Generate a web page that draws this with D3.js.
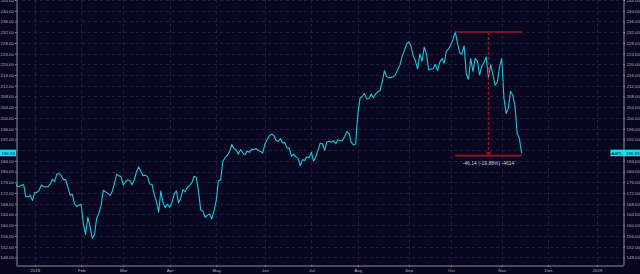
<!DOCTYPE html>
<html>
<head>
  <meta charset="utf-8">
  <title>AAPL 2018</title>
  <script src="https://cdn.jsdelivr.net/npm/d3@7"></script>
  <style>
    body { margin: 0; background: #09061f; }
    svg { display: block; }
  </style>
</head>
<body>
  <script>
    // daily closes, one array per month (Dec 15 2017 -> Nov 14 2018)
    var closeDec17 = [173.97, 176.42, 174.54, 174.35, 175.01, 175.01, 170.57, 170.60, 171.08, 169.23];
    var closeJan = [172.26, 172.23, 173.03, 175.00, 174.35, 174.33, 174.29, 175.28, 177.09, 176.19, 179.10,
                    179.26, 178.46, 177.00, 177.04, 174.22, 171.11, 171.51, 167.96, 166.97, 167.43];
    var closeFeb = [167.78, 160.50, 156.49, 163.03, 159.54, 155.15, 156.41, 162.71, 164.34, 167.37, 172.99,
                    172.43, 171.85, 171.07, 172.50, 175.50, 178.97, 178.39, 178.12];
    var closeMar = [175.00, 176.21, 176.82, 176.67, 175.03, 176.94, 179.98, 181.72, 179.97, 178.44, 178.65,
                    178.02, 175.30, 175.24, 171.27, 168.85, 164.94, 172.77, 168.34, 166.48, 167.78];
    var closeApr = [166.68, 168.39, 171.61, 172.80, 168.38, 170.05, 173.25, 172.44, 174.14, 174.73, 175.82,
                    178.24, 177.84, 172.80, 165.72, 165.24, 162.94, 163.65, 164.22, 162.32, 165.26];
    var closeMay = [169.10, 176.57, 176.89, 183.83, 185.16, 186.05, 187.36, 190.04, 188.59, 188.15, 186.44,
                    188.18, 186.99, 186.31, 187.63, 187.16, 188.36, 188.15, 188.58, 187.90, 187.50, 186.87];
    var closeJun = [190.24, 191.83, 193.31, 193.98, 193.46, 191.70, 191.23, 192.28, 190.70, 190.80, 188.84,
                    188.74, 185.69, 186.50, 185.46, 184.92, 182.17, 184.43, 184.16, 185.50, 185.11];
    var closeJul = [187.18, 183.92, 185.40, 187.97, 190.58, 190.35, 187.88, 191.03, 191.33, 190.91, 191.45,
                    190.40, 191.88, 191.44, 191.61, 193.00, 194.82, 194.21, 190.98, 189.91, 190.29];
    var closeAug = [201.50, 207.39, 207.99, 209.07, 207.11, 207.25, 208.88, 207.53, 208.87, 209.75, 210.24,
                    213.32, 217.58, 215.46, 215.04, 215.05, 215.49, 216.16, 217.94, 219.70, 222.98, 225.03, 227.63];
    var closeSep = [228.36, 226.87, 223.10, 221.30, 218.33, 223.85, 221.07, 226.41, 223.84, 217.88, 218.24,
                    218.37, 220.03, 217.66, 220.79, 222.19, 220.42, 224.95, 225.74];
    var closeOct = [227.26, 229.28, 232.07, 227.99, 224.29, 223.77, 226.87, 216.36, 214.45, 222.11, 217.36,
                    222.15, 221.19, 216.02, 219.31, 220.65, 222.73, 215.09, 219.80, 216.30, 212.24, 213.30, 218.86];
    var closeNov = [222.22, 207.48, 201.59, 203.77, 209.95, 208.49, 204.47, 194.17, 192.23, 186.93];

    var closes = [].concat(closeDec17, closeJan, closeFeb, closeMar, closeApr, closeMay, closeJun,
                           closeJul, closeAug, closeSep, closeOct, closeNov);

    // x axis: month labels and the trading-day index where each month starts
    var tickLabels = ['2018', 'Feb', 'Mar', 'Apr', 'May', 'Jun', 'Jul', 'Aug', 'Sep', 'Oct', 'Nov', 'Dec', '2019'];
    var tickDays = [10, 31, 50, 71, 92, 114, 135, 156, 179, 198, 221, 242, 264];
    var priceTicks = d3.range(148, 245, 4);

    var symbol = 'AAPL';
    var measureDelta = -46.14;
    var measureText = '-46.14 (-19.88%) -4614';

    var width = 640, height = 274;
    var plot = { left: 16, right: 623, top: 0, bottom: 265 };
    var font = 'Liberation Sans, Arial, sans-serif';

    var svg = d3.select('body').append('svg')
      .attr('width', width)
      .attr('height', height);

    svg.append('rect')
      .attr('width', width)
      .attr('height', height)
      .attr('fill', '#09061f');

    var x = d3.scaleLinear().domain([1.55, 275.8]).range([plot.left, plot.right]);
    var y = d3.scaleLinear().domain([145.13, 244]).range([plot.bottom, plot.top]);

    // grid
    var grid = svg.append('g')
      .attr('stroke', '#1d1f3e')
      .attr('stroke-width', 1)
      .attr('stroke-dasharray', '3,3');
    grid.selectAll('.hg').data(priceTicks).enter().append('line')
      .attr('x1', plot.left).attr('x2', plot.right)
      .attr('y1', function(d) { return Math.round(y(d)) + 0.5; })
      .attr('y2', function(d) { return Math.round(y(d)) + 0.5; });
    grid.selectAll('.vg').data(tickDays).enter().append('line')
      .attr('y1', plot.top).attr('y2', plot.bottom)
      .attr('x1', function(d) { return Math.round(x(d)) + 0.5; })
      .attr('x2', function(d) { return Math.round(x(d)) + 0.5; });

    svg.append('clipPath').attr('id', 'plotclip')
      .append('rect')
      .attr('x', plot.left).attr('y', plot.top)
      .attr('width', plot.right - plot.left)
      .attr('height', plot.bottom - plot.top);

    var line = d3.line()
      .x(function(d, i) { return x(i); })
      .y(function(d) { return y(d); });

    svg.append('path')
      .datum(closes)
      .attr('clip-path', 'url(#plotclip)')
      .attr('fill', 'none')
      .attr('stroke', '#1fc6d6')
      .attr('stroke-width', 1.1)
      .attr('stroke-linejoin', 'round')
      .attr('d', line);

    // measure tool
    var hiIdx = d3.maxIndex(closes);
    var lastIdx = closes.length - 1;
    var hi = closes[hiIdx];
    var lo = hi + measureDelta;
    var midIdx = (hiIdx + lastIdx) / 2;
    var red = '#9a1620';
    var meas = svg.append('g');
    [hi, lo].forEach(function(v) {
      meas.append('line')
        .attr('x1', x(hiIdx)).attr('x2', x(lastIdx))
        .attr('y1', y(v)).attr('y2', y(v))
        .attr('stroke', red).attr('stroke-width', 1.6);
    });
    meas.append('line')
      .attr('x1', x(midIdx)).attr('x2', x(midIdx))
      .attr('y1', y(hi)).attr('y2', y(lo) - 1)
      .attr('stroke', red).attr('stroke-width', 1.4)
      .attr('stroke-dasharray', '3,2');
    meas.append('path')
      .attr('d', 'M' + (x(midIdx) - 2.5) + ',' + (y(lo) - 4) + 'L' + x(midIdx) + ',' + (y(lo) - 1) +
                 'L' + (x(midIdx) + 2.5) + ',' + (y(lo) - 4))
      .attr('fill', 'none').attr('stroke', red).attr('stroke-width', 1.2);
    meas.append('text')
      .attr('x', x(midIdx)).attr('y', y(lo) + 9.5)
      .attr('text-anchor', 'middle')
      .attr('fill', '#c8c8d0')
      .style('font', '5px ' + font)
      .text(measureText);

    var last = closes[lastIdx];
    var ly = y(last);

    // axes
    function styleAxis(g) {
      g.select('.domain').attr('stroke', '#8c8c9c');
      g.selectAll('.tick line').attr('stroke', '#8c8c9c');
      g.selectAll('.tick text').attr('fill', '#aeaeb8').style('font', '4.4px ' + font);
    }
    // the last-price badge covers the price label under it
    function hideCovered(g) {
      g.selectAll('.tick').filter(function(d) { return Math.abs(y(d) - ly) < 6; }).select('text').remove();
    }
    var fmt = d3.format('.2f');
    svg.append('g')
      .attr('transform', 'translate(' + (plot.left + 0.5) + ',0)')
      .call(d3.axisLeft(y).tickValues(priceTicks).tickFormat(fmt).tickSize(1.5).tickSizeOuter(0).tickPadding(1))
      .call(styleAxis)
      .call(hideCovered);
    svg.append('g')
      .attr('transform', 'translate(' + (plot.right + 0.5) + ',0)')
      .call(d3.axisRight(y).tickValues(priceTicks).tickFormat(fmt).tickSize(1.5).tickSizeOuter(0).tickPadding(1.5))
      .call(styleAxis)
      .call(hideCovered);
    svg.append('g')
      .attr('transform', 'translate(0,' + (plot.bottom + 0.5) + ')')
      .call(d3.axisBottom(x).tickValues(tickDays)
        .tickFormat(function(d, i) { return tickLabels[i]; })
        .tickSize(1.5).tickSizeOuter(0).tickPadding(1.8))
      .call(styleAxis)
      .call(function(g) { g.selectAll('.tick text').attr('font-weight', function(d, i) { return tickLabels[i].length === 4 ? 'bold' : null; }); });

    // last price labels
    var cyan = '#10e4f4';
    svg.append('rect')
      .attr('x', 0).attr('y', ly - 3.3).attr('width', plot.left).attr('height', 6.6)
      .attr('fill', cyan);
    svg.append('text')
      .attr('x', plot.left - 1).attr('y', ly + 1.6)
      .attr('text-anchor', 'end')
      .attr('fill', '#0a0a20')
      .style('font', '4.4px ' + font)
      .text(fmt(last));
    svg.append('rect')
      .attr('x', 610.5).attr('y', ly - 3.3).attr('width', 29.5).attr('height', 6.6)
      .attr('fill', cyan);
    svg.append('text')
      .attr('x', 611.5).attr('y', ly + 1.6)
      .attr('fill', '#0a0a20')
      .style('font', '4.4px ' + font)
      .text(symbol);
    svg.append('text')
      .attr('x', 639.5).attr('y', ly + 1.6)
      .attr('text-anchor', 'end')
      .attr('fill', '#0a0a20')
      .style('font', '4.4px ' + font)
      .text(fmt(last));
  </script>
</body>
</html>
